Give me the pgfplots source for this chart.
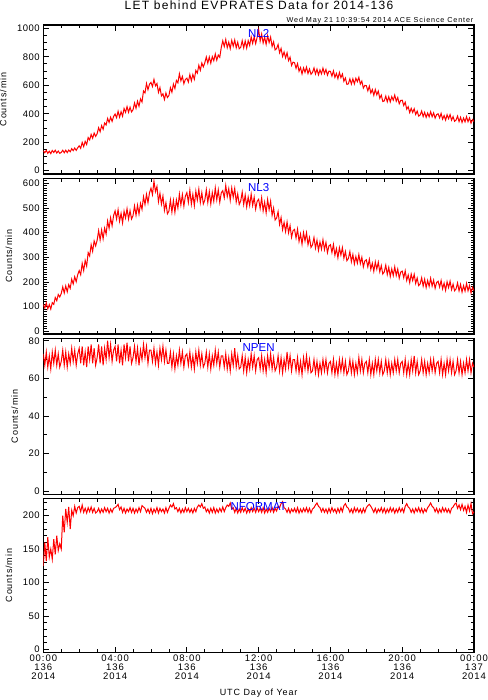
\documentclass[border=0pt]{standalone}
\usepackage{fontspec}
\setmainfont{Liberation Sans}
\usepackage{pgfplots}
\pgfplotsset{compat=1.18}
\usepackage{pgfplotstable}

% columns: minutes since 00:00 of day 136, NL2, NL3, NPEN, NFORMAT (counts/min)
\pgfplotstableread[row sep=\\]{
x nltwo nlthree npen nformat\\
0 140 109 73 125\\ 5 126 94 67 160\\ 10 143 115 74 132\\ 15 122 91 66 168\\ 20 137 108 72 138\\ 25 120 90 65 150\\ 30 142 116 74 135\\ 35 128 109 68 165\\ 40 144 137 75 142\\ 45 124 124 67 170\\ 50 138 149 73 148\\ 55 122 139 66 158\\
60 128 153 69 150\\ 65 144 180 75 200\\ 70 126 155 67 175\\ 75 144 184 74 210\\ 80 127 160 66 190\\ 85 145 189 73 213\\ 90 133 174 68 180\\ 95 155 211 76 208\\ 100 141 192 69 200\\ 105 159 221 75 214\\ 110 143 201 67 204\\ 115 161 229 73 212\\
120 175 246 76 214\\ 125 157 229 68 206\\ 130 199 275 77 216\\ 135 169 246 67 205\\ 140 206 287 74 211\\ 145 184 264 66 204\\ 150 233 319 77 212\\ 155 216 305 70 206\\ 160 255 351 78 213\\ 165 228 324 68 205\\ 170 264 366 76 211\\ 175 241 346 67 204\\
180 260 369 71 206\\ 185 302 408 78 211\\ 190 274 370 68 204\\ 195 317 411 77 210\\ 200 291 375 67 205\\ 205 335 418 76 212\\ 210 321 394 70 206\\ 215 367 447 80 211\\ 220 339 417 71 204\\ 225 376 460 78 210\\ 230 346 428 69 205\\ 235 381 469 75 211\\
240 398 488 77 212\\ 245 372 455 69 214\\ 250 417 493 78 217\\ 255 376 446 68 209\\ 260 414 478 75 213\\ 265 382 439 67 205\\ 270 437 487 78 211\\ 275 410 459 71 204\\ 280 450 497 79 210\\ 285 410 455 69 206\\ 290 446 489 77 212\\ 295 413 455 68 205\\
300 428 469 71 211\\ 305 476 508 77 204\\ 310 438 470 69 210\\ 315 488 511 76 205\\ 320 452 475 67 212\\ 325 504 518 75 206\\ 330 482 494 70 215\\ 335 560 545 78 213\\ 340 546 514 71 211\\ 345 612 555 77 205\\ 350 569 521 68 210\\ 355 607 561 75 204\\
360 620 580 75 211\\ 365 591 554 69 203\\ 370 641 608 76 210\\ 375 596 566 68 205\\ 380 612 587 74 212\\ 385 550 525 67 204\\ 390 584 559 76 211\\ 395 525 515 70 206\\ 400 540 548 77 210\\ 405 500 490 69 204\\ 410 546 521 75 212\\ 415 514 476 68 205\\
420 528 487 68 211\\ 425 583 532 74 216\\ 430 551 483 66 213\\ 435 608 530 73 218\\ 440 577 482 65 210\\ 445 634 532 72 212\\ 450 617 500 67 206\\ 455 680 556 75 211\\ 460 631 512 68 204\\ 465 662 554 74 210\\ 470 611 507 66 205\\ 475 640 548 72 212\\
480 650 562 73 206\\ 485 622 522 67 211\\ 490 675 572 74 205\\ 495 631 515 66 210\\ 500 675 555 72 204\\ 505 642 509 65 211\\ 510 704 568 74 206\\ 515 685 532 68 213\\ 520 740 576 75 216\\ 525 705 522 67 213\\ 530 756 562 73 218\\ 535 729 516 66 211\\
540 758 532 68 213\\ 545 799 574 74 206\\ 550 755 522 66 210\\ 555 798 566 73 204\\ 560 755 516 65 211\\ 565 801 562 72 205\\ 570 772 527 67 212\\ 575 820 581 75 204\\ 580 776 533 68 210\\ 585 812 573 74 205\\ 590 796 523 66 211\\ 595 865 561 72 206\\
600 912 570 72 213\\ 605 872 541 66 206\\ 610 921 591 73 212\\ 615 864 546 65 216\\ 620 903 578 71 214\\ 625 857 531 64 219\\ 630 915 581 73 210\\ 635 874 543 67 212\\ 640 918 579 76 205\\ 645 863 524 66 211\\ 650 902 557 72 204\\ 655 856 514 65 210\\
660 866 528 66 205\\ 665 913 564 72 212\\ 670 862 514 64 206\\ 675 911 552 71 211\\ 680 861 504 63 204\\ 685 913 544 70 210\\ 690 879 510 65 205\\ 695 940 556 73 212\\ 700 894 510 66 206\\ 705 940 543 72 211\\ 710 892 495 64 205\\ 715 937 527 70 212\\
720 990 535 71 206\\ 725 910 498 65 211\\ 730 959 541 72 205\\ 735 897 488 64 212\\ 740 937 523 70 204\\ 745 887 480 63 210\\ 750 948 534 72 205\\ 755 900 493 66 211\\ 760 938 527 73 206\\ 765 872 470 65 212\\ 770 905 499 71 205\\ 775 848 451 64 211\\
780 858 459 66 207\\ 785 886 485 72 214\\ 790 828 433 64 212\\ 795 858 461 71 218\\ 800 802 412 63 221\\ 805 834 441 70 212\\ 810 792 404 65 210\\ 815 828 443 74 205\\ 820 773 399 66 211\\ 825 797 428 72 204\\ 830 739 381 64 210\\ 835 762 408 70 206\\
840 758 413 70 211\\ 845 719 378 64 205\\ 850 752 414 71 212\\ 855 698 364 63 204\\ 860 724 394 69 210\\ 865 680 353 62 205\\ 870 722 400 71 211\\ 875 691 366 65 206\\ 880 727 399 72 212\\ 885 682 351 64 205\\ 890 714 380 70 211\\ 895 677 340 63 204\\
900 690 350 64 210\\ 905 721 380 70 212\\ 910 679 337 63 216\\ 915 713 369 69 219\\ 920 673 328 62 214\\ 925 708 362 68 212\\ 930 680 333 63 206\\ 935 720 371 70 211\\ 940 681 331 64 205\\ 945 711 360 70 210\\ 950 671 319 63 204\\ 955 699 346 68 211\\
960 697 351 69 205\\ 965 664 319 63 212\\ 970 701 352 70 206\\ 975 655 308 62 210\\ 980 683 335 68 204\\ 985 646 298 62 211\\ 990 690 339 70 205\\ 995 653 309 64 212\\ 1000 679 339 70 206\\ 1005 628 296 63 215\\ 1010 651 323 69 218\\ 1015 606 286 62 213\\
1020 610 295 64 211\\ 1025 645 323 70 205\\ 1030 608 282 63 210\\ 1035 645 311 69 204\\ 1040 609 273 62 212\\ 1045 649 303 68 206\\ 1050 625 276 63 211\\ 1055 656 311 71 205\\ 1060 608 274 64 210\\ 1065 629 300 70 204\\ 1070 580 261 63 211\\ 1075 599 285 68 205\\
1080 597 290 69 212\\ 1085 561 261 63 215\\ 1090 594 292 70 217\\ 1095 545 251 62 214\\ 1100 570 276 68 210\\ 1105 529 243 62 205\\ 1110 570 281 70 211\\ 1115 533 252 64 204\\ 1120 559 280 70 210\\ 1125 508 241 63 206\\ 1130 531 266 69 212\\ 1135 486 232 62 205\\
1140 490 241 64 211\\ 1145 524 268 70 204\\ 1150 484 230 63 210\\ 1155 520 259 69 205\\ 1160 483 222 62 212\\ 1165 520 253 68 206\\ 1170 495 226 63 211\\ 1175 531 261 70 204\\ 1180 488 226 64 210\\ 1185 514 252 70 205\\ 1190 470 215 63 212\\ 1195 494 240 68 206\\
1200 495 244 69 211\\ 1205 458 217 63 205\\ 1210 481 245 70 214\\ 1215 432 206 62 218\\ 1220 449 228 68 213\\ 1225 408 197 62 211\\ 1230 438 232 70 205\\ 1235 409 206 64 210\\ 1240 435 231 72 204\\ 1245 395 194 63 211\\ 1250 419 216 69 206\\ 1255 383 185 62 212\\
1260 391 192 64 205\\ 1265 419 217 70 211\\ 1270 380 183 63 204\\ 1275 410 211 69 210\\ 1280 374 177 62 206\\ 1285 405 206 68 212\\ 1290 378 182 63 215\\ 1295 414 215 70 219\\ 1300 379 183 64 214\\ 1305 406 207 70 212\\ 1310 369 174 63 206\\ 1315 394 198 68 211\\
1320 400 203 69 204\\ 1325 371 179 63 210\\ 1330 403 206 70 205\\ 1335 362 172 62 212\\ 1340 387 195 68 206\\ 1345 355 166 62 211\\ 1350 393 201 70 205\\ 1355 365 177 64 210\\ 1360 394 203 70 204\\ 1365 355 169 63 211\\ 1370 380 191 69 213\\ 1375 347 164 62 217\\
1380 356 172 64 219\\ 1385 384 196 70 211\\ 1390 345 164 63 216\\ 1395 375 190 69 209\\ 1400 339 159 62 217\\ 1405 370 185 68 208\\ 1410 343 163 63 214\\ 1415 379 194 70 205\\ 1420 344 164 64 216\\ 1425 371 186 70 207\\ 1430 334 155 63 218\\ 1435 359 178 68 203\\
1440 345 165 66 206\\
}\rates

\pgfplotsset{
  panel/.style={
    scale only axis, width=430.7pt, xmin=0, xmax=1440,
    xtick={0,240,...,1440}, minor xtick={0,60,...,1440},
    xticklabels={},
    tick align=inside, tick pos=both,
    major tick length=6pt, minor tick length=3.5pt,
    every tick/.style={black, line width=0.8pt},
    axis line style={line width=1.2pt},
    ylabel={Counts/min},
    ylabel style={font=\fontsize{9}{10}\selectfont\addfontfeature{LetterSpace=10}, yshift=4pt},
    yticklabel style={font=\fontsize{9.5}{10}\selectfont\addfontfeature{LetterSpace=5}},
    /pgf/number format/assume math mode=true,
    /pgf/number format/1000 sep={},
    anchor=north west, clip=true,
  },
  dat/.style={red, line width=1pt},
}
\tikzset{lab/.style={blue, font=\fontsize{11.5}{12}\selectfont, anchor=north}}

\begin{document}
\begin{tikzpicture}
\path[use as bounding box] (0pt,0pt) rectangle (487pt,-700pt);
\node[anchor=base, font=\fontsize{12}{13}\selectfont\addfontfeature{LetterSpace=11}] at (259pt,-10pt) {LET behind EVPRATES Data for 2014-136};
\node[anchor=base east, font=\fontsize{7.2}{8}\selectfont\addfontfeature{LetterSpace=12}, inner sep=0pt] at (473.5pt,-22.5pt) {Wed May 21 10:39:54 2014 ACE Science Center};

\begin{axis}[panel, at={(43.3pt,-25pt)}, height=149pt,
  ymin=-23, ymax=1023, ytick={0,200,...,1000}, minor ytick={0,50,...,1000}]
  \addplot[dat] table[x=x,y=nltwo] {\rates};
  \node[lab] at (axis cs:720,1018) {NL2};
\end{axis}

\begin{axis}[panel, at={(43.3pt,-178.3pt)}, height=155.7pt,
  ymin=-11, ymax=620, ytick={0,100,...,600}, minor ytick={0,10,...,620}]
  \addplot[dat] table[x=x,y=nlthree] {\rates};
  \node[lab] at (axis cs:720,615) {NL3};
\end{axis}

\begin{axis}[panel, at={(43.3pt,-338.3pt)}, height=156pt,
  ymin=-1.6, ymax=81.3, ytick={0,20,...,80}, minor ytick={0,10,...,80}]
  \addplot[dat] table[x=x,y=npen] {\rates};
  \node[lab] at (axis cs:720,80.5) {NPEN};
\end{axis}

\begin{axis}[panel, at={(43.3pt,-498.3pt)}, height=154.4pt,
  ymin=-5, ymax=226, ytick={0,50,...,200}, minor ytick={0,10,...,220},
  xticklabels={{00:00\\136\\2014},{04:00\\136\\2014},{08:00\\136\\2014},{12:00\\136\\2014},{16:00\\136\\2014},{20:00\\136\\2014},{00:00\\137\\2014}},
  xticklabel style={align=center, font=\fontsize{9.5}{9.2}\selectfont\addfontfeature{LetterSpace=10}, inner sep=1pt, yshift=-1pt},
  xlabel={UTC Day of Year}, xlabel style={font=\fontsize{9}{10}\selectfont\addfontfeature{LetterSpace=10}, yshift=-4pt}]
  \addplot[dat] table[x=x,y=nformat] {\rates};
  \node[lab] at (axis cs:720,225) {NFORMAT};
\end{axis}
\end{tikzpicture}
\end{document}
